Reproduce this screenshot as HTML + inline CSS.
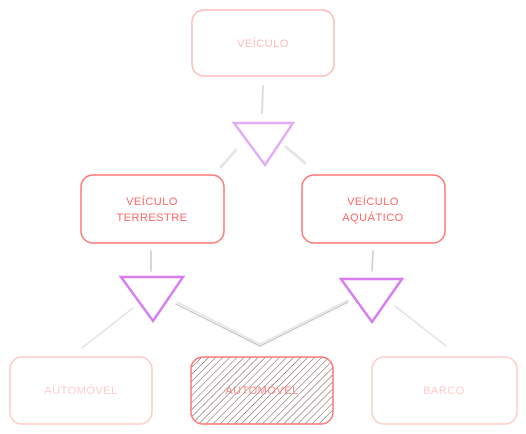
<!DOCTYPE html>
<html><head><style>
body{margin:0;background:#fff;width:526px;height:434px;overflow:hidden}
svg{display:block}
text{font-family:"Comic Sans MS","Liberation Sans",sans-serif;font-size:11px;text-anchor:middle;letter-spacing:0.5px}
</style></head><body>
<svg width="526" height="434" viewBox="0 0 526 434">
<defs>
<pattern id="h" width="5" height="5" patternUnits="userSpaceOnUse" patternTransform="rotate(45)">
<line x1="0" y1="0" x2="0" y2="5" stroke="#6b5050" stroke-width="1"/>
</pattern>
</defs>
<g stroke-linecap="round" fill="none">
<line x1="263" y1="86" x2="262" y2="113" stroke="#ddd" stroke-width="2"/>
<line x1="236" y1="150" x2="221" y2="167" stroke="#e6e6e6" stroke-width="3"/>
<line x1="286" y1="147" x2="305" y2="163" stroke="#e6e6e6" stroke-width="3"/>
<line x1="151" y1="251" x2="151" y2="271" stroke="#ccc" stroke-width="1.5"/>
<line x1="373" y1="251" x2="372" y2="271" stroke="#ccc" stroke-width="1.5"/>
<line x1="133" y1="308" x2="82" y2="348" stroke="#e3e3e3" stroke-width="1.5"/>
<polyline points="176,304 260,346 348,302" stroke="#ccc" stroke-width="1.5"/>
<polyline points="177,302 260,344 348,300" stroke="#ddd" stroke-width="1"/>
<line x1="395" y1="306" x2="446" y2="346" stroke="#e3e3e3" stroke-width="1.5"/>
<polygon points="234,123 293,123 265,165" stroke="#e2acf6" stroke-width="2.5"/>
<polygon points="121,277 183,277 153,321" stroke="#d67ef0" stroke-width="2.5"/>
<polygon points="341,279 402,279 372,322" stroke="#d67ef0" stroke-width="2.5"/>
<rect x="192" y="10" width="142" height="66" rx="12" stroke="#fbb" stroke-width="1.5"/>
<rect x="81" y="175" width="143" height="68" rx="12" stroke="#f77" stroke-width="1.5"/>
<rect x="302" y="175" width="143" height="68" rx="12" stroke="#f77" stroke-width="1.5"/>
<rect x="10" y="357" width="142" height="67" rx="12" stroke="#fcc" stroke-width="1.5"/>
<rect x="191" y="357" width="142" height="67" rx="12" fill="url(#h)" stroke="#f77" stroke-width="1.5"/>
<rect x="372" y="357" width="145" height="67" rx="12" stroke="#fcc" stroke-width="1.5"/>
</g>
<text x="263" y="47" fill="#fbb">VEÍCULO</text>
<text x="152" y="205" fill="#f66">VEÍCULO</text>
<text x="152" y="221" fill="#f66">TERRESTRE</text>
<text x="373" y="205" fill="#f66">VEÍCULO</text>
<text x="373" y="221" fill="#f66">AQUÁTICO</text>
<text x="81" y="394" fill="#fcc">AUTOMÓVEL</text>
<text x="262" y="394" fill="#f88">AUTOMÓVEL</text>
<text x="444" y="394" fill="#fcc">BARCO</text>
</svg>
</body></html>
